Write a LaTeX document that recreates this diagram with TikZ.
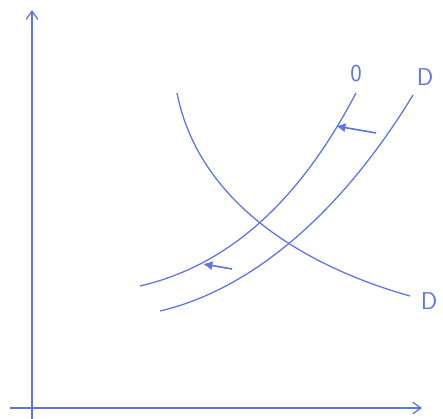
\documentclass[tikz,border=0pt]{standalone}
\usepackage{tikz}
\usepackage[dvipsnames,svgnames]{xcolor}
\usetikzlibrary{arrows.meta,positioning,calc}
\definecolor{pen}{RGB}{95,118,225}
\begin{document}
\begin{tikzpicture}[
  x=0.03cm,y=-0.03cm,
  axis/.style={draw=pen,line width=1.1pt,-{Straight Barb[length=7pt,width=10pt]}},
  curve/.style={draw=pen,line width=1.1pt},
  shift arrow/.style={draw=pen,line width=1.4pt,-{Latex[length=8pt,width=8pt]}},
  tag/.style={text=pen,font=\sffamily\huge,inner sep=1pt}
]
  \useasboundingbox (0,0) rectangle (443,419);
  % axes
  \coordinate (yo) at (32,419);
  \coordinate (yt) at (32,10);
  \coordinate (xo) at (10,408);
  \coordinate (xt) at (422,408);
  \draw[axis] (yo)--(yt);
  \draw[axis] (xo)--(xt);
  % demand
  \coordinate (d0) at (177,93);
  \coordinate (d1) at (410,296);
  \draw[curve] (d0) .. controls (198,200) and (300,265) .. (d1);
  \node[tag] (dlab) at (429,301) {D};
  % supply curves
  \coordinate (s0) at (140,286);
  \coordinate (s1) at (356,93);
  \draw[curve] (s0) .. controls (230,265) and (300,200) .. (s1);
  \coordinate (t0) at (160,311);
  \coordinate (t1) at (413,95);
  \draw[curve] (t0) .. controls (250,290) and (340,215) .. (t1);
  \node[tag] (slab) at (356,74) {0};
  \node[tag] (tlab) at (425,77) {D};
  % shifts
  \coordinate (a0) at (376,133);
  \coordinate (a1) at (336,126);
  \coordinate (b0) at (232,269);
  \coordinate (b1) at (203,264);
  \draw[shift arrow] (a0)--(a1);
  \draw[shift arrow] (b0)--(b1);
\end{tikzpicture}
\end{document}
